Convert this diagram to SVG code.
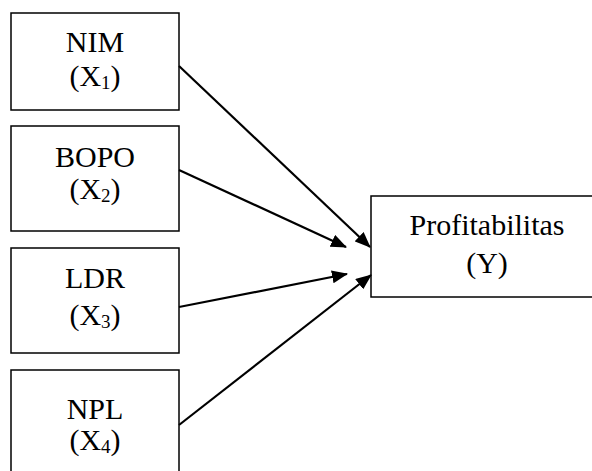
<svg xmlns="http://www.w3.org/2000/svg" width="592" height="471" viewBox="0 0 592 471">
<defs>
<style>
.box{fill:#fff;stroke:#000;stroke-width:1.5}
.t{font-family:'Liberation Serif',serif;font-size:30px;fill:#000;text-anchor:middle}
.sub{font-size:19px}
.c{stroke:#000;stroke-width:2.2;fill:none;marker-end:url(#ah)}
</style>
<marker id="ah" markerUnits="userSpaceOnUse" markerWidth="17" markerHeight="13" refX="15" refY="6.5" orient="auto">
<path d="M0,0 L16,6.5 L0,13 z" fill="#000"/>
</marker>
</defs>
<rect width="592" height="471" fill="#fff"/>
<g id="n1"><rect class="box" x="11" y="13" width="168" height="97"/>
<text class="t" font-family="Liberation Serif, serif" x="95" y="52">NIM</text>
<text class="t" font-family="Liberation Serif, serif" x="95" y="86">(X<tspan class="sub" dy="3">1</tspan><tspan dy="-3">)</tspan></text></g>
<g id="n2"><rect class="box" x="11" y="126" width="168" height="105"/>
<text class="t" font-family="Liberation Serif, serif" x="95" y="167">BOPO</text>
<text class="t" font-family="Liberation Serif, serif" x="95" y="199">(X<tspan class="sub" dy="3">2</tspan><tspan dy="-3">)</tspan></text></g>
<g id="n3"><rect class="box" x="11" y="248" width="168" height="105"/>
<text class="t" font-family="Liberation Serif, serif" x="95" y="288">LDR</text>
<text class="t" font-family="Liberation Serif, serif" x="95" y="325">(X<tspan class="sub" dy="3">3</tspan><tspan dy="-3">)</tspan></text></g>
<g id="n4"><rect class="box" x="11" y="370" width="168" height="110"/>
<text class="t" font-family="Liberation Serif, serif" x="95" y="419">NPL</text>
<text class="t" font-family="Liberation Serif, serif" x="95" y="450">(X<tspan class="sub" dy="3">4</tspan><tspan dy="-3">)</tspan></text></g>
<g id="ny"><rect class="box" x="371" y="196" width="232" height="101"/>
<text class="t" font-family="Liberation Serif, serif" x="487" y="235">Profitabilitas</text>
<text class="t" font-family="Liberation Serif, serif" x="487" y="273">(Y)</text></g>
<g id="connectors">
<line class="c" x1="179" y1="66" x2="370" y2="247"/>
<line class="c" x1="179" y1="170" x2="346" y2="247"/>
<line class="c" x1="179" y1="307" x2="347" y2="274"/>
<line class="c" x1="179" y1="425" x2="371" y2="275"/>
</g>
</svg>
